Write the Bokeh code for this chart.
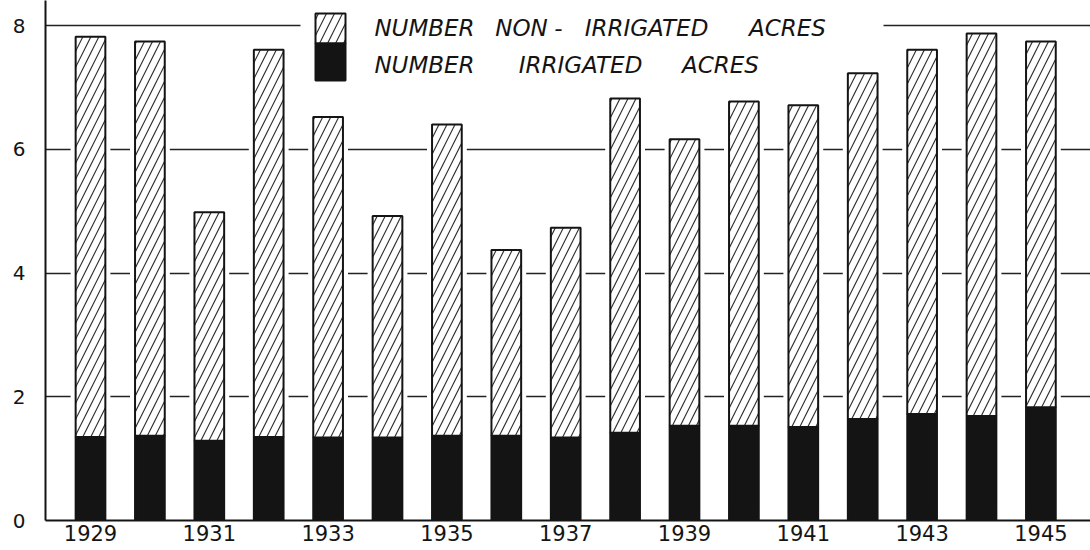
from bokeh.plotting import figure
from bokeh.models import FixedTicker, Range1d, ColumnDataSource
from bokeh.core.properties import value
from bokeh.embed import file_html
from bokeh.resources import INLINE

# ---- data (millions of acres) ----
years = [1929, 1930, 1931, 1932, 1933, 1934, 1935, 1936, 1937,
         1938, 1939, 1940, 1941, 1942, 1943, 1944, 1945]
total_acres = [7.82, 7.74, 4.98, 7.61, 6.52, 4.92, 6.40, 4.37, 4.73,
               6.82, 6.16, 6.77, 6.71, 7.23, 7.61, 7.87, 7.74]
irrigated_acres = [1.35, 1.37, 1.29, 1.35, 1.34, 1.34, 1.37, 1.37, 1.34,
                   1.42, 1.53, 1.53, 1.51, 1.64, 1.72, 1.69, 1.83]
tick_years = [1929, 1931, 1933, 1935, 1937, 1939, 1941, 1943, 1945]
tick_labels = ["1929", "1931", "1933", "1935", "1937", "1939", "1941", "1943", "1945"]
y_ticks = [0, 2, 4, 6, 8]
legend_labels = ["NUMBER NON-IRRIGATED ACRES", "NUMBER IRRIGATED ACRES"]

# ---- layout geometry (screen pixels of the page) ----
W, H = 1090, 550
FRAME_L, FRAME_R, FRAME_T, FRAME_B = 45, 1090, 0, 520
PX_PER_YEAR = 59.4
X0 = 1929 - (90 - FRAME_L) / PX_PER_YEAR
X1 = X0 + (FRAME_R - FRAME_L) / PX_PER_YEAR
PX_PER_UNIT = (FRAME_B - 25) / 8.0
Y1 = (FRAME_B - FRAME_T) / PX_PER_UNIT


def sx(px):
    return X0 + (px - FRAME_L) / PX_PER_YEAR


def sy(py):
    return (FRAME_B - py) / PX_PER_UNIT


INK = "#141414"
HATCH = dict(hatch_pattern="/", hatch_scale=16, hatch_weight=1.2, hatch_color="#333333")

p = figure(width=W, height=H, output_backend="svg", toolbar_location=None,
           x_range=Range1d(X0, X1), y_range=Range1d(0, Y1),
           min_border_left=FRAME_L, min_border_right=W - FRAME_R,
           min_border_top=FRAME_T, min_border_bottom=H - FRAME_B)
p.outline_line_color = None
p.background_fill_color = "white"
p.border_fill_color = "white"

src = ColumnDataSource(dict(year=years, total=total_acres, irr=irrigated_acres))

# white margin around bars (interrupts grid lines like the original)
p.vbar(x="year", top="total", bottom=0, width=0.67, source=src,
       fill_color="white", line_color=None)
# irrigated (black) part
p.vbar(x="year", top="irr", bottom=0, width=0.5, source=src,
       fill_color=INK, line_color=INK, line_width=2)
# non-irrigated (hatched) part
p.vbar(x="year", top="total", bottom="irr", width=0.5, source=src,
       fill_color="white", line_color=INK, line_width=2, **HATCH)

# legend: white gap in the top grid line
p.quad(left=[sx(300)], right=[sx(883)], bottom=[sy(34)], top=[sy(16)],
       fill_color="white", line_color=None)
# legend swatch
p.quad(left=[sx(315)], right=[sx(345)], bottom=[sy(43)], top=[sy(13)],
       fill_color="white", line_color=INK, line_width=2, **HATCH)
p.quad(left=[sx(315)], right=[sx(345)], bottom=[sy(80)], top=[sy(43)],
       fill_color=INK, line_color=INK, line_width=2)

# legend labels, word by word to mimic the wide lettering
w1 = legend_labels[0].replace("-", " - ").split()   # NUMBER NON - IRRIGATED ACRES
w2 = legend_labels[1].split()                       # NUMBER IRRIGATED ACRES
line1_cx = [424, 521, 558, 646, 787]
line2_cx = [424, 580, 720]
for words, cxs, cy in ((w1, line1_cx, 27), (w2, line2_cx, 64)):
    p.text(x=[sx(c) for c in cxs], y=[sy(cy)] * len(words), text=words,
           text_font=value("DejaVu Sans"), text_font_style="italic",
           text_font_size="23px", text_color=INK,
           text_align="center", text_baseline="middle")

# axes
p.xaxis.ticker = FixedTicker(ticks=tick_years)
p.xaxis.major_label_overrides = {y: l for y, l in zip(tick_years, tick_labels)}
p.yaxis.ticker = FixedTicker(ticks=y_ticks)
for ax in (p.xaxis, p.yaxis):
    ax.axis_line_color = INK
    ax.axis_line_width = 2
    ax.major_tick_line_color = None
    ax.minor_tick_line_color = None
    ax.major_tick_out = 0
    ax.major_tick_in = 0
    ax.minor_tick_out = 0
    ax.major_label_text_color = INK
    ax.major_label_text_font = "DejaVu Sans"
p.xaxis.major_label_text_font_size = "21px"
p.xaxis.major_label_standoff = 4
p.yaxis.major_label_text_font_size = "20px"
p.yaxis.major_label_standoff = 20

p.xgrid.grid_line_color = None
p.ygrid.ticker = FixedTicker(ticks=[2, 4, 6, 8])
p.ygrid.grid_line_color = "#222222"
p.ygrid.grid_line_width = 1.5

open("out.html", "w").write(file_html(p, INLINE))
